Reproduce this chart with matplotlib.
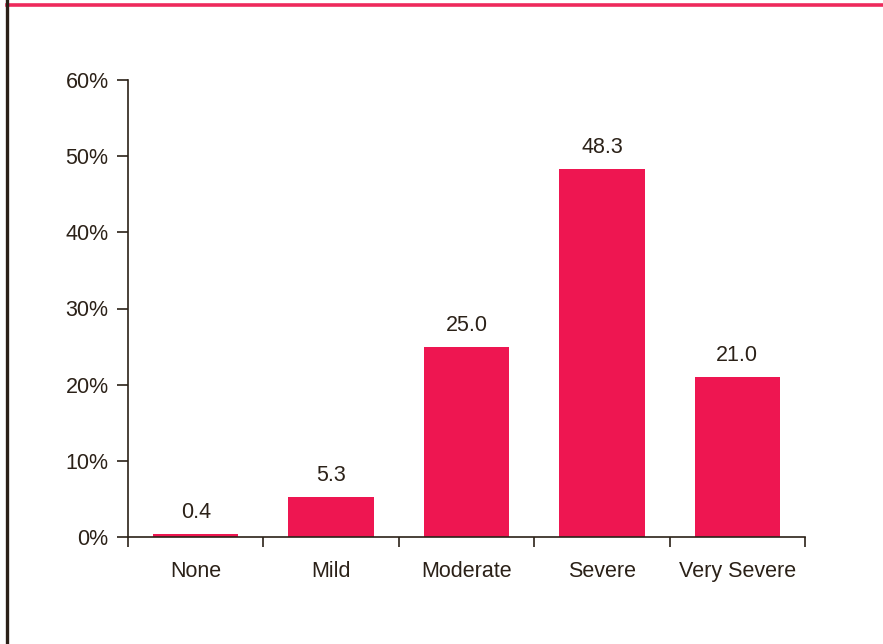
import matplotlib
matplotlib.use("Agg")
import matplotlib.pyplot as plt
from matplotlib.lines import Line2D
import numpy as np

categories = ["None", "Mild", "Moderate", "Severe", "Very Severe"]
values = [0.4, 5.3, 25.0, 48.3, 21.0]
yticks = [0, 10, 20, 30, 40, 50, 60]

BAR = "#EE1651"
INK = "#2B2118"

plt.rcParams["font.family"] = ["Liberation Sans", "DejaVu Sans"]

fig = plt.figure(figsize=(8.83, 6.44), dpi=100)
ax = fig.add_axes([128/883, 1 - 537/644, (805 - 128)/883, (537 - 80)/644])

x = np.arange(len(categories))
ax.bar(x, values, width=0.63, color=BAR, zorder=2)
for xi, v in zip(x, values):
    ax.text(xi, v + 1.4, f"{v:.1f}", ha="center", va="bottom",
            fontsize=15.5, color=INK)

ax.set_xlim(-0.5, len(categories) - 0.5)
ax.set_ylim(0, 60)
ax.set_yticks(yticks)
ax.set_yticklabels([f"{t}%" for t in yticks], fontsize=15.5, color=INK)

# category labels sit between the boundary ticks
ax.set_xticks(np.arange(-0.5, len(categories)))
ax.set_xticklabels([])
ax.set_xticks(x, minor=True)
ax.set_xticklabels(categories, minor=True, fontsize=15.5, color=INK)
ax.tick_params(axis="x", which="minor", length=0, pad=17)
ax.tick_params(axis="x", which="major", length=7, width=1.2, color=INK)
ax.tick_params(axis="y", length=8, width=1.2, color=INK, pad=6)

for s in ["top", "right"]:
    ax.spines[s].set_visible(False)
for s in ["left", "bottom"]:
    ax.spines[s].set_color(INK)
    ax.spines[s].set_linewidth(1.2)

# page frame lines
fig.add_artist(Line2D([7/883, 1], [1 - 4.5/644] * 2, color="#EE2A5C",
                      linewidth=2.6, transform=fig.transFigure))
fig.add_artist(Line2D([7/883] * 2, [0, 1], color=INK,
                      linewidth=2.4, transform=fig.transFigure))

fig.savefig("out.png", dpi=100)
